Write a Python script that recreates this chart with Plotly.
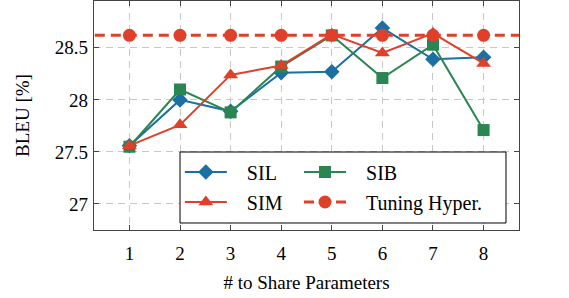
import plotly.graph_objects as go

x = [1, 2, 3, 4, 5, 6, 7, 8]
sil = [27.56, 28.00, 27.89, 28.26, 28.27, 28.69, 28.39, 28.41]
sim = [27.56, 27.76, 28.24, 28.33, 28.63, 28.45, 28.64, 28.35]
sib = [27.55, 28.10, 27.88, 28.32, 28.62, 28.21, 28.53, 27.71]
tuning_value = 28.62
tuning_x = [0] + x + [9]
tuning = [tuning_value] * len(tuning_x)

BLUE = "#1b6fa3"
RED = "#e0402a"
GREEN = "#2b8553"
FONT = "Liberation Serif"
NB = "\u00a0\u00a0\u00a0"

fig = go.Figure()
fig.add_trace(go.Scatter(x=x, y=sil, name=NB + "SIL", mode="lines+markers", legend="legend",
                         line=dict(color=BLUE, width=2),
                         marker=dict(symbol="diamond", size=12, color=BLUE)))
fig.add_trace(go.Scatter(x=x, y=sib, name=NB + "SIB", mode="lines+markers", legend="legend2",
                         line=dict(color=GREEN, width=2),
                         marker=dict(symbol="square", size=12, color=GREEN)))
fig.add_trace(go.Scatter(x=x, y=sim, name=NB + "SIM", mode="lines+markers", legend="legend3",
                         line=dict(color=RED, width=2),
                         marker=dict(symbol="triangle-up", size=13, color=RED)))
fig.add_trace(go.Scatter(x=tuning_x, y=tuning, name=NB + "Tuning Hyper.", mode="lines+markers",
                         legend="legend4",
                         line=dict(color=RED, width=3, dash="10px,6px"),
                         marker=dict(symbol="circle", size=13, color=RED), cliponaxis=True))

axis_common = dict(
    showline=True, linecolor="#444444", linewidth=1.2, mirror="ticks",
    ticks="inside", ticklen=5, tickcolor="#444444",
    showgrid=True, gridcolor="#c8c8c8", griddash="7px,5px", gridwidth=1,
    zeroline=False, tickfont=dict(family=FONT, size=19, color="black"),
)

legend_common = dict(xanchor="left", yanchor="middle", orientation="h",
                     itemwidth=42, bgcolor="rgba(0,0,0,0)", borderwidth=0,
                     font=dict(family=FONT, size=20, color="black"))

COL1, COL2 = 0.202, 0.4824
ROW1, ROW2 = 0.2533, 0.1223

fig.update_layout(
    width=569, height=298,
    margin=dict(l=94, r=50, t=1, b=68),
    paper_bgcolor="white", plot_bgcolor="white",
    font=dict(family=FONT, size=19, color="black"),
    xaxis=dict(range=[0.3, 8.7], tickvals=x, ticktext=[str(v) for v in x],
               ticklabelstandoff=6,
               title=dict(text="# to Share Parameters", font=dict(family=FONT, size=19), standoff=12),
               **axis_common),
    yaxis=dict(range=[26.75, 28.95], tickvals=[27, 27.5, 28, 28.5],
               ticktext=["27", "27.5", "28", "28.5"], ticklabelstandoff=1,
               title=dict(text="BLEU [%]", font=dict(family=FONT, size=19), standoff=20),
               **axis_common),
    legend=dict(x=COL1, y=ROW1, **legend_common),
    legend2=dict(x=COL2, y=ROW1, **legend_common),
    legend3=dict(x=COL1, y=ROW2, **legend_common),
    legend4=dict(x=COL2, y=ROW2, **legend_common),
    shapes=[dict(type="rect", xref="paper", yref="paper",
                 x0=0.2024, x1=0.9694, y0=0.0306, y1=0.3406,
                 line=dict(color="black", width=1), fillcolor="white", layer="above")],
    showlegend=True,
)

fig.write_html("out.html", config={"displayModeBar": False},
               post_script="document.body.style.margin='0';")
